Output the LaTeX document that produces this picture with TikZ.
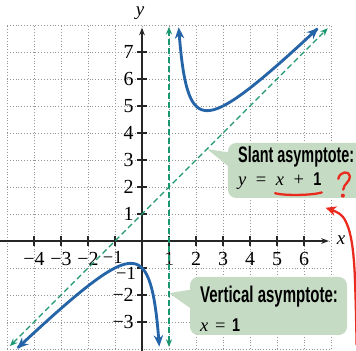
\documentclass[tikz,border=0pt]{standalone}
\usepackage{fontspec}
\usepackage{graphicx}
\setmainfont{Liberation Serif}
\newfontfamily\calloutfont{Liberation Sans}
\usetikzlibrary{arrows.meta}
\definecolor{curveblue}{RGB}{38,100,168}
\definecolor{asymgreen}{RGB}{26,150,112}
\definecolor{calloutfill}{RGB}{198,219,196}
\definecolor{annred}{RGB}{234,42,30}
\definecolor{gridgray}{RGB}{150,150,150}
\tikzset{
  gridline/.style={gridgray, line width=0.9pt, dash pattern=on 0.9pt off 2.1pt},
  axisline/.style={black!85, line width=1.3pt, -{Stealth[length=8pt,width=6pt]}},
  tickline/.style={black!85, line width=1.3pt},
  ticklabel/.style={inner sep=0pt, font=\fontsize{21}{23}\selectfont},
  smalltick/.style={inner sep=0pt, font=\fontsize{19.5}{21}\selectfont},
  fcurve/.style={curveblue, line width=3pt, {Stealth[length=12pt,width=10pt]}-{Stealth[length=12pt,width=10pt]}},
  asym/.style={asymgreen, line width=1.2pt, dash pattern=on 6pt off 3.5pt, {Stealth[length=8pt,width=6.5pt]}-{Stealth[length=8pt,width=6.5pt]}},
  bubble/.style={fill=calloutfill, rounded corners=0.3cm},
  pointer/.style={fill=calloutfill},
  calltext/.style={inner sep=0pt, anchor=base west, font=\calloutfont\bfseries},
  mathtext/.style={inner sep=0pt, anchor=base west, font=\fontsize{19.5}{21}\selectfont},
  redmark/.style={annred, line width=2.4pt, line cap=round, line join=round}
}
\begin{document}
\begin{tikzpicture}[x=1cm,y=1cm]
\useasboundingbox (-5.259,-4.074) rectangle (7.926,8.926);
% grid
\draw[gridline] (-5,-4) grid (7,8);
% callout bubbles
\fill[bubble] (3.185,1.593) rectangle (8.4,3.63);
\coordinate (slanttip) at (2.42,3.40);
\fill[pointer] (slanttip) -- (3.30,3.27) -- (3.40,2.60) -- cycle;
\fill[bubble] (1.78,-3.481) rectangle (7.593,-1.333);
\coordinate (verttip) at (1.0,-1.93);
\fill[pointer] (verttip) -- (1.95,-1.78) -- (1.95,-2.60) -- cycle;
% axes
\coordinate (xstart) at (-5.259,0);
\coordinate (xend) at (6.92,0);
\coordinate (ystart) at (0,-4.074);
\coordinate (yend) at (0,7.9);
\draw[axisline] (xstart) -- (xend);
\draw[axisline] (ystart) -- (yend);
\node[inner sep=0pt, font=\fontsize{20}{22}\selectfont\itshape] (xlab) at (7.37,0.02) {x};
\node[inner sep=0pt, font=\fontsize{20}{22}\selectfont\itshape] (ylab) at (-0.07,8.45) {y};
% ticks and labels
\foreach \t in {-4,-3,-2,-1,1,2,3,4,5,6} {
  \draw[tickline] (\t,-0.185) -- (\t,0.185);
}
\foreach \t/\s in {-4/−4,-3/−3,-2/−2,1/1,2/2,3/3,4/4,5/5,6/6} {
  \node[ticklabel] (xl\t) at (\t,-0.66) {\s};
}
\node[smalltick] (xlm1) at (-1.08,-0.60) {−1};
\foreach \t/\s in {-3/−3,-2/−2,1/1,2/2,3/3,4/4,5/5,6/6,7/7} {
  \draw[tickline] (-0.185,\t) -- (0.185,\t);
  \node[ticklabel, anchor=east] (yl\t) at (-0.30,\t) {\s};
}
\draw[tickline] (-0.185,-1) -- (0.185,-1);
\node[smalltick, anchor=east] (ylm1) at (-0.22,-1.19) {−1};
% asymptotes
\coordinate (va1) at (1,-3.92);
\coordinate (va2) at (1,7.93);
\coordinate (sa1) at (-4.89,-3.89);
\coordinate (sa2) at (6.88,7.88);
\draw[asym] (va1) -- (va2);
\draw[asym] (sa1) -- (sa2);
% function branches
\draw[fcurve] plot[domain=-4.63:0.64, samples=160, smooth] (\x, {\x+1+2/(\x-1)});
\draw[fcurve] plot[domain=1.36:6.53, samples=160, smooth] (\x, {\x+1+2/(\x-1)});
% callout texts
\node[calltext] (slanthead) at (3.556,2.889) {\resizebox{4.30cm}{0.60cm}{Slant asymptote:}};
\node[mathtext] (slanteq) at (3.556,2.074) {\textit{y}\hspace{10pt}=\hspace{10pt}\textit{x}\hspace{10pt}+\hspace{10pt}\scalebox{0.78}[1]{\calloutfont\bfseries 1}};
\node[calltext] (verthead) at (2.148,-2.296) {\resizebox{5.10cm}{0.61cm}{Vertical asymptote:}};
\node[mathtext] (verteq) at (2.148,-3.37) {\textit{x}\hspace{7pt}=\hspace{7pt}\scalebox{0.78}[1]{\calloutfont\bfseries 1}};
% red annotations
\draw[redmark] (4.93,1.77) .. controls (5.2,1.68) and (6.3,1.68) .. (6.66,1.80);
\draw[redmark] (7.27,2.30) .. controls (7.32,2.58) and (7.68,2.62) .. (7.70,2.40)
  .. controls (7.72,2.20) and (7.47,2.12) .. (7.45,1.90);
\fill[annred] (7.44,1.68) circle (0.075);
\coordinate (redtip) at (6.80,1.23);
\draw[redmark, -{Stealth[length=11pt,width=10pt,inset=3pt]}] plot[smooth, tension=0.6] coordinates {(7.95,-3.85) (7.907,-2.0) (7.852,-0.778) (7.741,0.111) (7.556,0.704) (7.30,1.02) (6.80,1.23)};
\end{tikzpicture}
\end{document}
